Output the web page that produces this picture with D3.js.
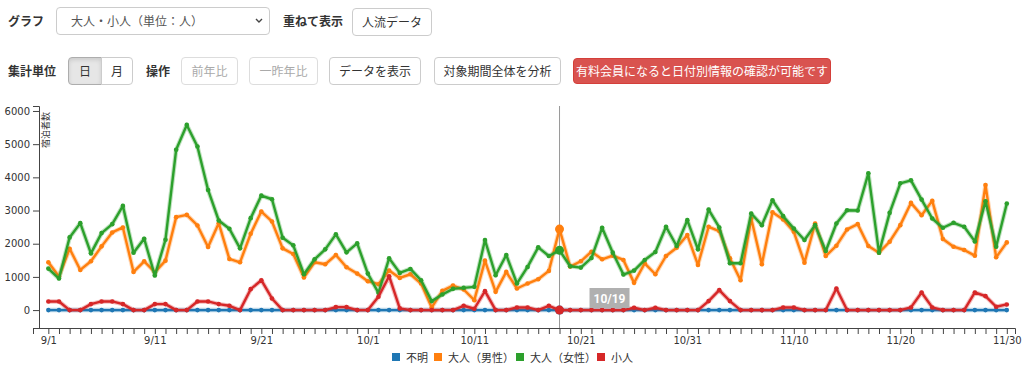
<!DOCTYPE html>
<html>
<head>
<meta charset="utf-8">
<script src="https://cdn.jsdelivr.net/npm/d3@7"></script>
<style>
  body { margin: 0; width: 1024px; height: 373px; background: #fff; overflow: hidden;
         font-family: "Noto Sans CJK JP", "Noto Sans", sans-serif; font-size: 12px; color: #333; }
  .lbl { position: absolute; font-weight: bold; line-height: 16px; }
  .btn { position: absolute; box-sizing: border-box; height: 28px; border: 1px solid #ccc; border-radius: 4px;
         background: #fff; text-align: center; line-height: 26px; color: #333; }
  .btn.off { color: #aaa; border-color: #ddd; }
  .btn.on { background: #e6e6e6; box-shadow: inset 0 2px 4px rgba(0,0,0,.12); border-color: #adadad; }
  #chart { position: absolute; left: 0; top: 0; }
</style>
</head>
<body>
<div class="lbl" style="left:8px;top:13px">グラフ</div>
<div class="btn" style="left:56px;top:7px;width:214px;text-align:left;padding-left:14px;color:#555">大人・小人（単位：人）
  <svg style="position:absolute;right:6px;top:10px" width="8" height="6"><polyline points="1,1 4,4 7,1" fill="none" stroke="#444" stroke-width="1.4"/></svg>
</div>
<div class="lbl" style="left:283px;top:13px">重ねて表示</div>
<div class="btn" style="left:352px;top:8px;width:80px">人流データ</div>

<div class="lbl" style="left:8px;top:63px">集計単位</div>
<div class="btn on" style="left:68px;top:57px;width:34px;border-radius:4px 0 0 4px">日</div>
<div class="btn" style="left:101px;top:57px;width:32px;border-radius:0 4px 4px 0">月</div>
<div class="lbl" style="left:146px;top:63px">操作</div>
<div class="btn off" style="left:181px;top:57px;width:57px">前年比</div>
<div class="btn off" style="left:249px;top:57px;width:69px">一昨年比</div>
<div class="btn" style="left:329px;top:57px;width:92px">データを表示</div>
<div class="btn" style="left:434px;top:57px;width:127px">対象期間全体を分析</div>
<div class="btn" style="left:573px;top:58px;width:258px;height:26px;line-height:24px;background:#d9534f;border-color:#d43f3a;color:#fff">有料会員になると日付別情報の確認が可能です</div>

<svg id="chart" width="1024" height="373"></svg>
<script>
// dates: 9/1 - 11/30
const days = d3.timeDay.range(new Date(2019, 8, 1), new Date(2019, 11, 1));
const fmt = d3.timeFormat("%-m/%-d");
const tickLabels = ["9/1", "9/11", "9/21", "10/1", "10/11", "10/21", "10/31", "11/10", "11/20", "11/30"];
const seriesNames = ["不明", "大人（男性）", "大人（女性）", "小人"];
const colors = ["#1f77b4", "#ff7f0e", "#2ca02c", "#d62728"];

const unknown = [
  0,0,0,0,0,0,0,0,0,0, 0,0,0,0,0,0,0,0,0,0, 0,0,0,0,0,0,0,0,0,0,
  0,0,0,0,0,0,0,0,0,0, 0,0,0,0,0,0,0,0,0,0, 0,0,0,0,0,0,0,0,0,0,
  0,0,0,0,0,0,0,0,0,0, 0,0,0,0,0,0,0,0,0,0, 0,0,0,0,0,0,0,0,0,0, 0
];
const adultMale = [
  1440,1010,1850,1210,1470,1920,2340,2490,1150,1470,
  1140,1490,2800,2870,2550,1900,2620,1540,1440,2300,
  2970,2670,1860,1690,980,1440,1380,1660,1290,1100,
  870,780,1190,970,1080,800,80,580,740,620,
  300,1490,550,1150,650,800,930,1180,2440,1310,
  1470,1760,1530,1640,1510,820,1410,1080,1630,1880,
  2260,1360,2510,2380,1560,900,2760,1380,2950,2730,
  2360,1430,2610,1630,1940,2430,2590,1930,1730,2060,
  2560,3230,2860,3290,2140,1910,1810,1640,3770,1590,
  2040
];
const adultFemale = [
  1250,950,2190,2620,1710,2320,2590,3140,1730,2150,
  1040,2120,4830,5580,4930,3620,2700,2450,1860,2770,
  3450,3340,2180,1950,1080,1530,1830,2280,1740,2010,
  1100,520,1560,1120,1240,900,270,470,640,670,
  700,2110,1050,1660,800,1300,1890,1630,1800,1320,
  1280,1570,2480,1730,1070,1190,1510,1750,2510,1930,
  2710,1830,3030,2490,1410,1410,2910,2560,3310,2830,
  2460,2110,2560,1780,2610,3010,3000,4120,1730,2930,
  3820,3910,3330,2760,2480,2630,2510,2070,3280,1910,
  3210
];
const child = [
  260,260,0,0,180,260,260,180,0,0,
  180,180,0,0,260,260,180,130,0,630,
  900,350,0,0,0,0,0,90,90,0,
  0,400,1020,50,0,0,0,0,0,130,
  40,570,0,0,80,80,0,130,0,0,
  0,0,0,0,0,70,0,70,0,0,
  0,0,270,600,270,0,0,0,0,80,
  80,0,0,0,650,0,0,0,0,0,
  0,80,530,80,0,0,0,530,420,100,
  170
];
const series = [unknown, adultMale, adultFemale, child];
const yTicks = [0, 1000, 2000, 3000, 4000, 5000, 6000];
const focusIndex = 48; // 10/19

const svg = d3.select("#chart");

const x = d3.scaleLinear().domain([-1.44, 90.77]).range([33, 1015]);
const y = d3.scaleLinear().domain([-540, 6150]).range([328, 106]);
const axisX = 39;

// x axis: a tick every day, labels every 10 days
const xAxis = svg.append("g")
    .attr("transform", "translate(0,328)")
    .call(d3.axisBottom(x).tickValues(d3.range(days.length))
        .tickFormat(i => tickLabels.includes(fmt(days[i])) ? fmt(days[i]) : ""));
xAxis.selectAll("text").style("font-family", "DejaVu Sans, sans-serif").style("font-size", "10px").attr("fill", "#333");
xAxis.selectAll("path, line").attr("stroke", "#444");

// y axis
const yAxis = svg.append("g")
    .attr("transform", `translate(${axisX},0)`)
    .call(d3.axisLeft(y).tickValues(yTicks).tickFormat(d3.format("d")));
yAxis.selectAll("text").style("font-family", "DejaVu Sans, sans-serif").style("font-size", "10px").attr("fill", "#333");
yAxis.selectAll("path, line").attr("stroke", "#444");

svg.append("text")
    .attr("transform", `translate(${axisX},106) rotate(-90)`)
    .attr("x", -6)
    .attr("y", 4)
    .attr("dy", ".71em")
    .attr("text-anchor", "end")
    .style("font-size", "9px")
    .attr("fill", "#333")
    .text("宿泊者数");

// focus line
svg.append("line")
    .attr("x1", x(focusIndex)).attr("x2", x(focusIndex))
    .attr("y1", 106).attr("y2", 328)
    .attr("stroke", "#999").attr("stroke-width", 1);

const line = d3.line().x((d, i) => x(i)).y(d => y(d));

series.forEach((vals, s) => {
    const g = svg.append("g");
    g.append("path")
        .datum(vals)
        .attr("fill", "none")
        .attr("stroke", colors[s])
        .attr("stroke-opacity", 0.3)
        .attr("stroke-width", 4.5)
        .attr("stroke-linejoin", "round")
        .attr("d", line);
    g.append("path")
        .datum(vals)
        .attr("fill", "none")
        .attr("stroke", colors[s])
        .attr("stroke-width", 2.4)
        .attr("stroke-linejoin", "round")
        .attr("d", line);
    g.selectAll("circle")
        .data(vals)
        .join("circle")
        .attr("cx", (d, i) => x(i))
        .attr("cy", d => y(d))
        .attr("r", (d, i) => i === focusIndex ? 4.5 : 2.3)
        .attr("fill", colors[s]);
});

// tooltip date label
const tip = svg.append("g").attr("transform", `translate(${x(focusIndex) + 30},288)`);
tip.append("rect").attr("width", 40).attr("height", 20).attr("fill", "#b0b0b0");
tip.append("text")
    .attr("x", 20).attr("y", 14.5)
    .attr("text-anchor", "middle")
    .attr("fill", "#fff")
    .style("font-weight", "bold")
    .style("font-size", "12px")
    .style("font-family", "Roboto, sans-serif")
    .text(fmt(days[focusIndex]));

// legend
const legendX = [392, 434, 516, 597];
const legend = svg.append("g").attr("transform", "translate(0,353)");
seriesNames.forEach((name, s) => {
    legend.append("rect").attr("x", legendX[s]).attr("y", 0).attr("width", 8).attr("height", 8).attr("fill", colors[s]);
    legend.append("text").attr("x", legendX[s] + 14).attr("y", 8.5)
        .style("font-size", "11px").attr("fill", "#333").text(name);
});
</script>
</body>
</html>
